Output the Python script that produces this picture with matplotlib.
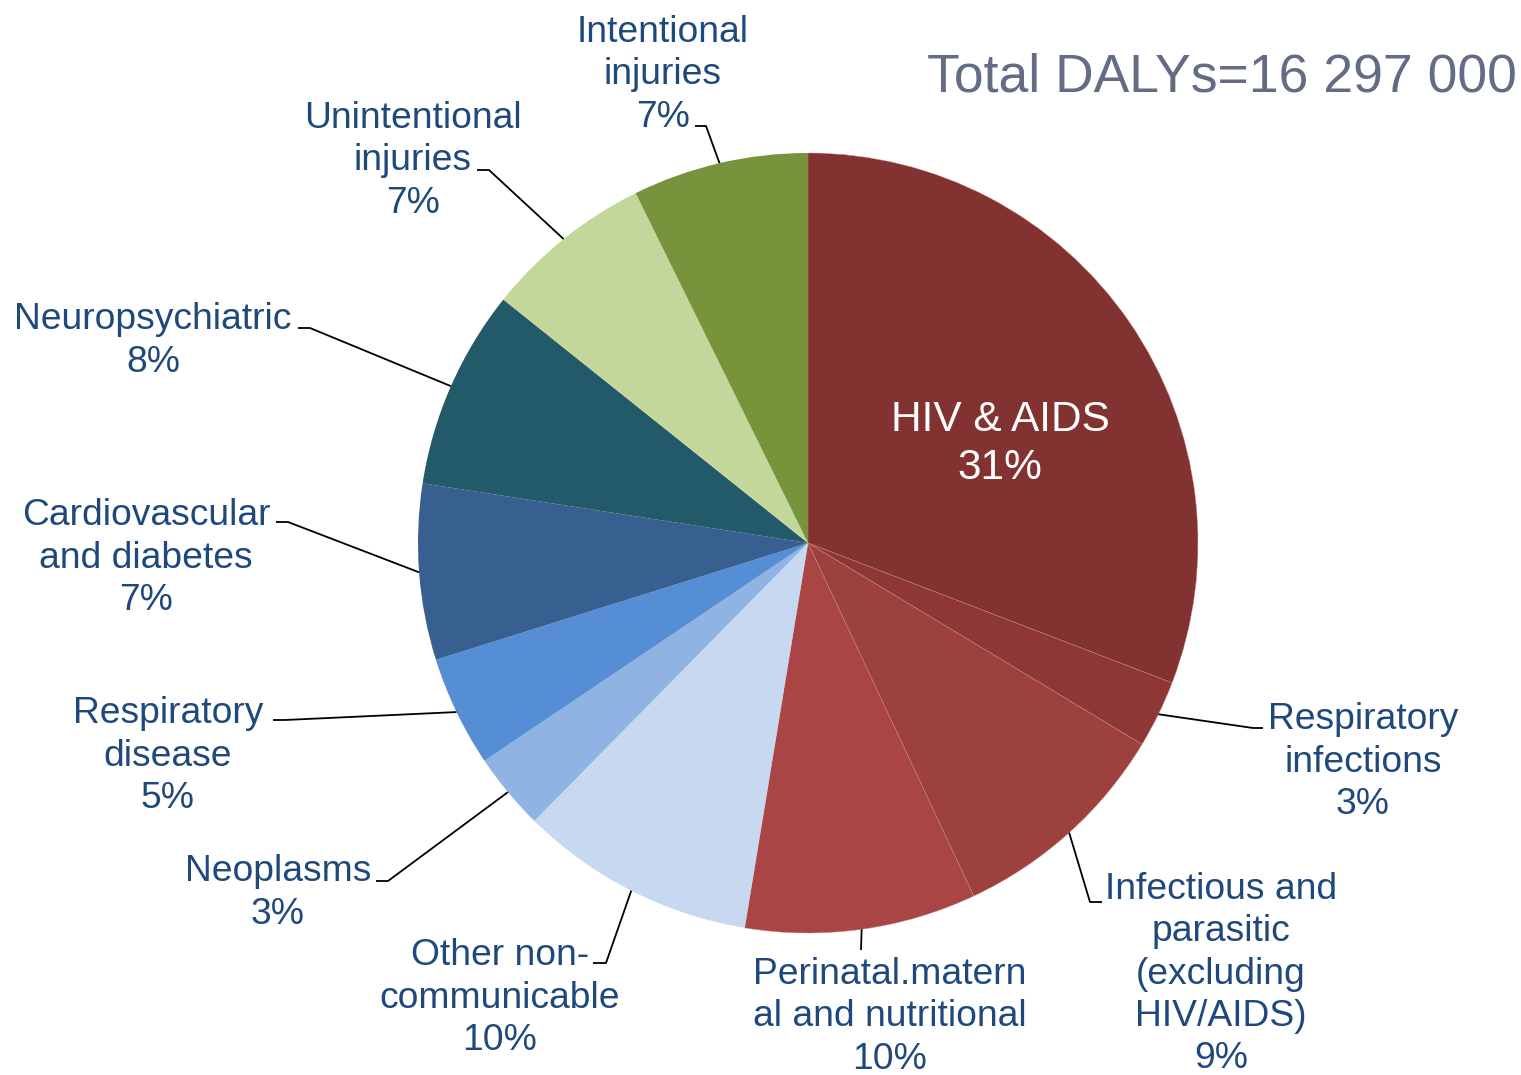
import numpy as np
import matplotlib
matplotlib.use("Agg")
import matplotlib.pyplot as plt

# ---- data (clockwise from 12 o'clock) ----
categories = [
    "HIV & AIDS",
    "Respiratory\ninfections",
    "Infectious and\nparasitic\n(excluding\nHIV/AIDS)",
    "Perinatal.matern\nal and nutritional",
    "Other non-\ncommunicable",
    "Neoplasms",
    "Respiratory\ndisease",
    "Cardiovascular\nand diabetes",
    "Neuropsychiatric",
    "Unintentional\ninjuries",
    "Intentional\ninjuries",
]
values = [30.9, 2.8, 9.4, 9.6, 9.8, 3.2, 4.6, 7.3, 8.3, 7.0, 7.3]
pct_labels = ["31%", "3%", "9%", "10%", "10%", "3%", "5%", "7%", "8%", "7%", "7%"]
colors = ["#833232", "#8e3836", "#9d413f", "#a94645", "#c6d9f0", "#8fb3e2",
          "#558ed5", "#376091", "#225a69", "#c4d79b", "#77933c"]
title_text = "Total DALYs=16 297 000"

# ---- layout (pixel coordinates, y measured from top) ----
W, H = 1521, 1075
CX, CY, R = 808, 543, 390
label_pos = [(1000, 444), (1363, 762), (1221, 974), (890, 1017), (500, 998),
             (278, 893), (168, 756), (146, 558), (153, 341), (413, 161), (663, 75)]
# elbow & end points of leader lines (None for inside label)
leaders = [None,
           [(1253, 728), (1263, 728)],
           [(1090, 902), (1102, 902)],
           [(861, 950)],
           [(606, 963), (593, 963)],
           [(388, 881), (376, 881)],
           [(285, 720), (273, 720)],
           [(288, 522), (276, 522)],
           [(310, 328), (298, 328)],
           [(489, 170), (477, 170)],
           [(706, 126), (695, 126)]]

FONT = "Liberation Sans"
LABEL_COLOR = "#1f497d"

fig = plt.figure(figsize=(W / 100, H / 100), dpi=100)
ax = fig.add_axes([0, 0, 1, 1])

wedges, _ = ax.pie(values, colors=colors, startangle=90, counterclock=False,
                   center=(CX, H - CY), radius=R,
                   wedgeprops=dict(linewidth=0))
for w in wedges[:4]:
    w.set_edgecolor("#c98888")
    w.set_linewidth(0.3)

ax.set_xlim(0, W)
ax.set_ylim(0, H)
ax.set_aspect("equal")
ax.axis("off")

for i, w in enumerate(wedges):
    lx, ly = label_pos[i]
    if i == 0:
        ax.text(lx, H - ly, categories[i] + "\n" + pct_labels[i], ha="center",
                va="center", multialignment="center", color="white",
                fontsize=30.5, family=FONT, linespacing=1.23)
        continue
    ax.text(lx, H - ly, categories[i] + "\n" + pct_labels[i], ha="center",
            va="center", multialignment="center", color=LABEL_COLOR,
            fontsize=26.8, family=FONT, linespacing=1.27)
    mid = np.deg2rad((w.theta1 + w.theta2) / 2)
    px = CX + R * np.cos(mid)
    py = (H - CY) + R * np.sin(mid)
    xs = [px] + [p[0] for p in leaders[i]]
    ys = [py] + [H - p[1] for p in leaders[i]]
    ax.plot(xs, ys, color="black", lw=1.3, solid_capstyle="butt")

ax.text(1517, H - 78, title_text, ha="right", va="center", color="#646c85",
        fontsize=38.5, family=FONT)

fig.savefig("out.png", dpi=100)
